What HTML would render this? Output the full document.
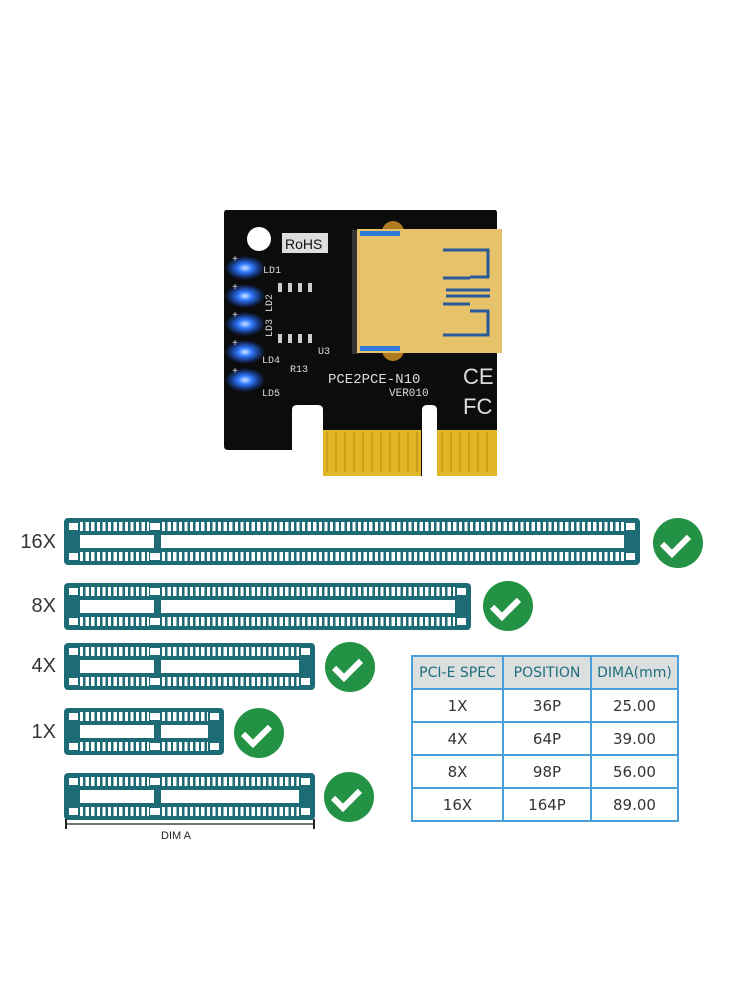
<!DOCTYPE html>
<html><head><meta charset="utf-8"><style>
body{margin:0;background:#fff;width:750px;height:1000px;position:relative;overflow:hidden;font-family:"Liberation Sans",sans-serif}
.slot{position:absolute;background:#1d6b74;border-radius:4px;height:47px}
.slot div{position:absolute;background:#fff}
.pins{background:repeating-linear-gradient(to right,#fff 0 3.2px,transparent 3.2px 5.6px)!important;height:9px}
.lbl{position:absolute;font-size:20px;color:#333;text-align:right;width:42px}
.chk{position:absolute;width:50px;height:50px;border-radius:50%;background:#239244}
.chk:after{content:"";position:absolute;left:14px;top:11px;width:11px;height:21px;border-right:6px solid #fff;border-bottom:6px solid #fff;transform:rotate(45deg)}
table{position:absolute;left:411px;top:655px;border-collapse:collapse;font-family:"DejaVu Sans","Liberation Sans",sans-serif}
td{border:2px solid #4aa0d8;height:31px;text-align:center;font-size:15px;color:#333;padding:0}
tr.h td{background:#dcdfe0;color:#1e6e7c;font-size:14px}
</style></head><body>

<svg style="position:absolute;left:0;top:0" width="750" height="500">
<defs><radialGradient id="led"><stop offset="0" stop-color="#cfe6ff"/><stop offset=".35" stop-color="#2f7bff"/><stop offset="1" stop-color="#2060ff" stop-opacity="0"/></radialGradient></defs>
<path d="M226 210 H495 Q497 210 497 213 V476 H437 V410 Q437 405 432 405 H427 Q422 405 422 410 V476 H323 V410 Q323 405 318 405 H297 Q292 405 292 410 V450 H228 Q224 450 224 446 V214 Q224 210 226 210Z" fill="#0c0c0d"/>
<rect x="323" y="430" width="98" height="46" fill="#e2b626"/>
<rect x="437" y="430" width="60" height="46" fill="#e2b626"/>
<g fill="#caa018">
<rect x="326" y="432" width="2" height="40"/><rect x="335" y="432" width="2" height="40"/><rect x="344" y="432" width="2" height="40"/><rect x="353" y="432" width="2" height="40"/><rect x="362" y="432" width="2" height="40"/><rect x="371" y="432" width="2" height="40"/><rect x="380" y="432" width="2" height="40"/><rect x="389" y="432" width="2" height="40"/><rect x="398" y="432" width="2" height="40"/><rect x="407" y="432" width="2" height="40"/><rect x="416" y="432" width="2" height="40"/>
<rect x="441" y="432" width="2" height="40"/><rect x="450" y="432" width="2" height="40"/><rect x="459" y="432" width="2" height="40"/><rect x="468" y="432" width="2" height="40"/><rect x="477" y="432" width="2" height="40"/><rect x="486" y="432" width="2" height="40"/>
</g>
<circle cx="259" cy="239" r="12" fill="#fff"/>
<rect x="282" y="233" width="46" height="20" fill="#ddd"/>
<text x="285" y="249" font-size="14" fill="#111">RoHS</text>
<circle cx="393" cy="232" r="11" fill="#b07a20"/><circle cx="393" cy="350" r="11" fill="#b07a20"/>
<rect x="352" y="230" width="6" height="124" fill="#333"/>
<rect x="357" y="229" width="145" height="124" fill="#e6c36a"/>
<rect x="360" y="231" width="40" height="5" fill="#2f7ad8"/><rect x="360" y="346" width="40" height="5" fill="#2f7ad8"/>
<path d="M443 250 H488 V277 H470 M443 278 H470 M446 290 H490 M446 296 H490 M443 304 H470 M470 311 H488 V335 H443" stroke="#2a5a9a" stroke-width="3" fill="none"/>
<g fill="url(#led)"><ellipse cx="245" cy="268" rx="20" ry="12"/><ellipse cx="245" cy="296" rx="20" ry="12"/><ellipse cx="245" cy="324" rx="20" ry="12"/><ellipse cx="245" cy="352" rx="20" ry="12"/><ellipse cx="245" cy="380" rx="20" ry="12"/></g>
<g fill="#ddd" font-size="10" font-family="Liberation Mono,monospace">
<text x="232" y="262">+</text><text x="232" y="290">+</text><text x="232" y="318">+</text><text x="232" y="346">+</text><text x="232" y="374">+</text>
<text x="263" y="273">LD1</text><text x="262" y="396">LD5</text><text x="262" y="363">LD4</text>
<text transform="translate(272,312) rotate(-90)">LD2</text><text transform="translate(272,337) rotate(-90)">LD3</text>
<text x="318" y="354">U3</text><text x="290" y="372">R13</text>
<text x="328" y="383" font-size="14">PCE2PCE-N10</text><text x="389" y="396" font-size="11">VER010</text>
<text x="463" y="384" font-size="22" font-family="Liberation Sans">CE</text><text x="463" y="414" font-size="22" font-family="Liberation Sans">FC</text>
</g>
<g fill="#ccc"><rect x="278" y="283" width="4" height="9"/><rect x="288" y="283" width="4" height="9"/><rect x="298" y="283" width="4" height="9"/><rect x="308" y="283" width="4" height="9"/><rect x="278" y="334" width="4" height="9"/><rect x="288" y="334" width="4" height="9"/><rect x="298" y="334" width="4" height="9"/><rect x="308" y="334" width="4" height="9"/></g>
</svg>

<div class="lbl" style="left:14px;top:531px">16X</div>
<div class="lbl" style="left:14px;top:595px">8X</div>
<div class="lbl" style="left:14px;top:655px">4X</div>
<div class="lbl" style="left:14px;top:721px">1X</div>

<div class="slot" style="left:64px;top:518px;width:576px"><div style="left:5px;top:5px;width:9px;height:7px"></div><div class="pins" style="left:16px;top:4px;width:69px"></div><div style="left:86px;top:5px;width:10px;height:7px"></div><div class="pins" style="left:98px;top:4px;width:462px"></div><div style="left:562px;top:5px;width:9px;height:7px"></div><div style="left:16px;top:17px;width:74px;height:13px"></div><div style="left:97px;top:17px;width:463px;height:13px"></div><div style="left:5px;top:35px;width:9px;height:7px"></div><div class="pins" style="left:16px;top:34px;width:69px"></div><div style="left:86px;top:35px;width:10px;height:7px"></div><div class="pins" style="left:98px;top:34px;width:462px"></div><div style="left:562px;top:35px;width:9px;height:7px"></div></div>
<div class="slot" style="left:64px;top:583px;width:407px"><div style="left:5px;top:5px;width:9px;height:7px"></div><div class="pins" style="left:16px;top:4px;width:69px"></div><div style="left:86px;top:5px;width:10px;height:7px"></div><div class="pins" style="left:98px;top:4px;width:293px"></div><div style="left:393px;top:5px;width:9px;height:7px"></div><div style="left:16px;top:17px;width:74px;height:13px"></div><div style="left:97px;top:17px;width:294px;height:13px"></div><div style="left:5px;top:35px;width:9px;height:7px"></div><div class="pins" style="left:16px;top:34px;width:69px"></div><div style="left:86px;top:35px;width:10px;height:7px"></div><div class="pins" style="left:98px;top:34px;width:293px"></div><div style="left:393px;top:35px;width:9px;height:7px"></div></div>
<div class="slot" style="left:64px;top:643px;width:251px"><div style="left:5px;top:5px;width:9px;height:7px"></div><div class="pins" style="left:16px;top:4px;width:69px"></div><div style="left:86px;top:5px;width:10px;height:7px"></div><div class="pins" style="left:98px;top:4px;width:137px"></div><div style="left:237px;top:5px;width:9px;height:7px"></div><div style="left:16px;top:17px;width:74px;height:13px"></div><div style="left:97px;top:17px;width:138px;height:13px"></div><div style="left:5px;top:35px;width:9px;height:7px"></div><div class="pins" style="left:16px;top:34px;width:69px"></div><div style="left:86px;top:35px;width:10px;height:7px"></div><div class="pins" style="left:98px;top:34px;width:137px"></div><div style="left:237px;top:35px;width:9px;height:7px"></div></div>
<div class="slot" style="left:64px;top:708px;width:160px"><div style="left:5px;top:5px;width:9px;height:7px"></div><div class="pins" style="left:16px;top:4px;width:69px"></div><div style="left:86px;top:5px;width:10px;height:7px"></div><div class="pins" style="left:98px;top:4px;width:46px"></div><div style="left:146px;top:5px;width:9px;height:7px"></div><div style="left:16px;top:17px;width:74px;height:13px"></div><div style="left:97px;top:17px;width:47px;height:13px"></div><div style="left:5px;top:35px;width:9px;height:7px"></div><div class="pins" style="left:16px;top:34px;width:69px"></div><div style="left:86px;top:35px;width:10px;height:7px"></div><div class="pins" style="left:98px;top:34px;width:46px"></div><div style="left:146px;top:35px;width:9px;height:7px"></div></div>
<div class="slot" style="left:64px;top:773px;width:251px"><div style="left:5px;top:5px;width:9px;height:7px"></div><div class="pins" style="left:16px;top:4px;width:69px"></div><div style="left:86px;top:5px;width:10px;height:7px"></div><div class="pins" style="left:98px;top:4px;width:137px"></div><div style="left:237px;top:5px;width:9px;height:7px"></div><div style="left:16px;top:17px;width:74px;height:13px"></div><div style="left:97px;top:17px;width:138px;height:13px"></div><div style="left:5px;top:35px;width:9px;height:7px"></div><div class="pins" style="left:16px;top:34px;width:69px"></div><div style="left:86px;top:35px;width:10px;height:7px"></div><div class="pins" style="left:98px;top:34px;width:137px"></div><div style="left:237px;top:35px;width:9px;height:7px"></div></div>

<svg style="position:absolute;left:0;top:815px" width="400" height="30">
<line x1="66" y1="9" x2="314" y2="9" stroke="#222" stroke-width="1.3"/>
<line x1="66" y1="4" x2="66" y2="14" stroke="#222" stroke-width="2"/><line x1="314" y1="4" x2="314" y2="14" stroke="#222" stroke-width="2"/>
<text x="161" y="24" font-size="11" fill="#222">DIM A</text>
</svg>

<div class="chk" style="left:653px;top:518px"></div>
<div class="chk" style="left:483px;top:581px"></div>
<div class="chk" style="left:325px;top:642px"></div>
<div class="chk" style="left:234px;top:708px"></div>
<div class="chk" style="left:324px;top:772px"></div>

<table>
<tr class="h"><td style="width:89px">PCI-E SPEC</td><td style="width:86px">POSITION</td><td style="width:85px">DIMA(mm)</td></tr>
<tr><td>1X</td><td>36P</td><td>25.00</td></tr>
<tr><td>4X</td><td>64P</td><td>39.00</td></tr>
<tr><td>8X</td><td>98P</td><td>56.00</td></tr>
<tr><td>16X</td><td>164P</td><td>89.00</td></tr>
</table>
</body></html>
